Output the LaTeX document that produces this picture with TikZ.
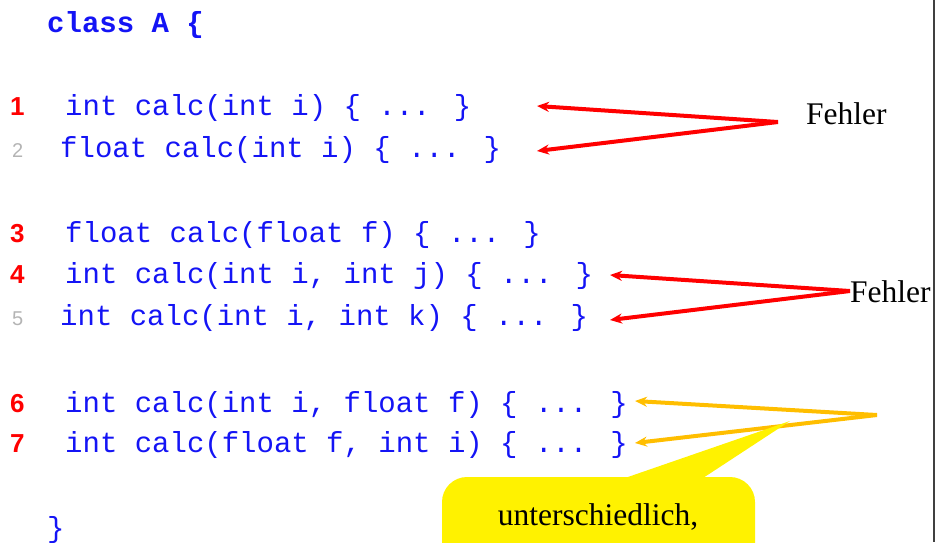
\documentclass[tikz,border=0pt]{standalone}
\usepackage{fontspec}
\setmainfont{Liberation Serif}
\newfontfamily\codefont{Liberation Mono}
\newfontfamily\numfont{Liberation Sans}
\usetikzlibrary{arrows.meta}
\definecolor{codeblue}{RGB}{20,20,245}
\definecolor{numgray}{RGB}{180,180,180}
\definecolor{warnorange}{RGB}{255,190,0}

\begin{document}
\begin{tikzpicture}[x=1pt,y=-1pt]
\tikzset{code/.style = {anchor=base west, inner sep=0pt, text=codeblue, font=\codefont\fontsize{29}{29}\selectfont}}
\tikzset{num/.style = {anchor=base west, inner sep=0pt, text=red, font=\numfont\bfseries\fontsize{26}{26}\selectfont}}
\tikzset{numlight/.style = {anchor=base west, inner sep=0pt, text=numgray, font=\numfont\fontsize{20}{20}\selectfont}}
\tikzset{note/.style = {inner sep=0pt, font=\fontsize{31.5}{31.5}\selectfont}}
\tikzset{edge/.style = {-{Stealth[length=12pt,width=10pt]}, line width=4pt, draw=red}}
\tikzset{edgeok/.style = {edge, draw=warnorange}}
\useasboundingbox (0,0) rectangle (936,542);
\clip (0,0) rectangle (936,542);
% code lines
\node[code, font=\codefont\bfseries\fontsize{29}{29}\selectfont] (head) at (47,32) {class A \{};
\node[num] (n1) at (10,115) {1};
\node[code] (l1) at (65,115) {int calc(int i) \{ ... \}};
\node[numlight] (n2) at (12,157) {2};
\node[code] (l2) at (60,157) {float calc(int i) \{ ... \}};
\node[num] (n3) at (10,242) {3};
\node[code] (l3) at (65,242) {float calc(float f) \{ ... \}};
\node[num] (n4) at (10,283) {4};
\node[code] (l4) at (65,283) {int calc(int i, int j) \{ ... \}};
\node[numlight] (n5) at (12,325) {5};
\node[code] (l5) at (60,325) {int calc(int i, int k) \{ ... \}};
\node[num] (n6) at (10,412) {6};
\node[code] (l6) at (65,412) {int calc(int i, float f) \{ ... \}};
\node[num] (n7) at (10,452) {7};
\node[code] (l7) at (65,452) {int calc(float f, int i) \{ ... \}};
\node[code] (tail) at (47,537) {\}};
% notes
\node[note, anchor=base west] (err1) at (806,124) {Fehler};
\node[note, anchor=base west] (err2) at (850,302) {Fehler};
\coordinate (a1) at (778,122);
\coordinate (a2) at (850,291);
\coordinate (a3) at (877,415);
\coordinate (t1) at (537,106);
\coordinate (t2) at (537,151);
\coordinate (t4) at (610,275);
\coordinate (t5) at (610,320);
\coordinate (t6) at (635,401);
\coordinate (t7) at (635,443);
%edges
\draw[edge] (a1) -- (t1);
\draw[edge] (a1) -- (t2);
\draw[edge] (a2) -- (t4);
\draw[edge] (a2) -- (t5);
\draw[edgeok] (a3) -- (t6);
\draw[edgeok] (a3) -- (t7);
% callout
\coordinate (tip) at (790,421);
\fill[yellow] (625,478) -- (tip) -- (703,478) -- cycle;
\fill[yellow, rounded corners=25pt] (442,477) rectangle (755,620);
\node[note, anchor=base] (hint) at (598,525) {unterschiedlich,};
% frame
\draw[line width=1.5pt, black!75] (934,0) -- (934,542);
\end{tikzpicture}
\end{document}
